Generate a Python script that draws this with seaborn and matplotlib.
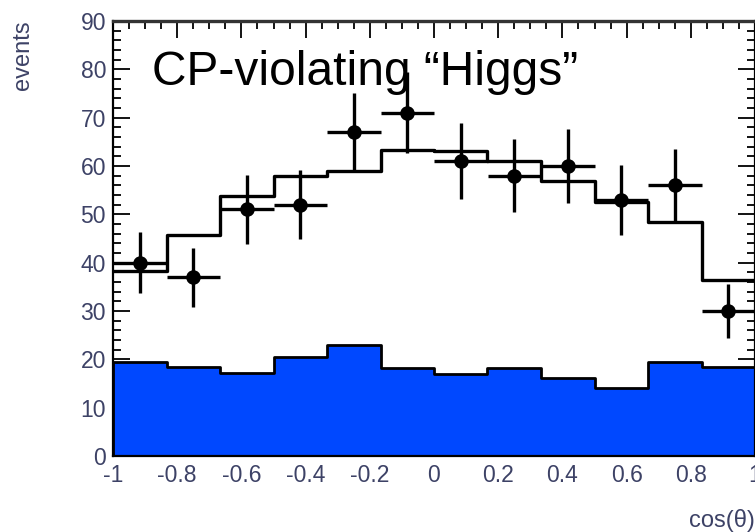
import numpy as np
import pandas as pd
import matplotlib
matplotlib.use("Agg")
import matplotlib.pyplot as plt
from matplotlib.ticker import MultipleLocator, FuncFormatter
import seaborn as sns

# cos(theta) binning: 12 equal bins over [-1, 1]
n_bins = 12
x_range = (-1.0, 1.0)
bin_edges = np.linspace(x_range[0], x_range[1], n_bins + 1)
bin_centers = 0.5 * (bin_edges[:-1] + bin_edges[1:])
half_width = 0.5 * (bin_edges[1] - bin_edges[0])

# Observed events per bin and their statistical uncertainties
data_counts = [40, 37, 51, 52, 67, 71, 61, 58, 60, 53, 56, 30]
data_errors = [6.3, 6.1, 7.1, 7.2, 8.2, 8.4, 7.8, 7.6, 7.7, 7.3, 7.5, 5.5]

# Expected total (signal + background) per bin
total_expected = [38.3, 45.8, 53.7, 57.9, 59.0, 63.3, 63.0, 61.0, 56.8, 52.6, 48.5, 36.5]

# Background component per bin
background = [19.5, 18.4, 17.2, 20.5, 23.0, 18.2, 17.0, 18.2, 16.1, 14.0, 19.5, 18.4]

x_ticks = [-1, -0.8, -0.6, -0.4, -0.2, 0, 0.2, 0.4, 0.6, 0.8, 1]
y_ticks = [0, 10, 20, 30, 40, 50, 60, 70, 80, 90]

hist_df = pd.DataFrame({
    "cos": bin_centers,
    "total": total_expected,
    "bkg": background,
    "data": data_counts,
    "err": data_errors,
})

sns.set_theme(style="ticks")
plt.rcParams["font.family"] = ["Liberation Sans", "DejaVu Sans"]
plt.rcParams["axes.unicode_minus"] = False

W, H = 755, 532
fig = plt.figure(figsize=(W / 100, H / 100), dpi=100)
ax = fig.add_axes([113 / W, 76 / H, 642 / W, 435 / H])

blue = "#0048ff"
label_col = "#3d4266"

# Background: filled step histogram
sns.histplot(data=hist_df, x="cos", weights="bkg", bins=n_bins,
             binrange=x_range, element="step", fill=True, color=blue,
             alpha=1.0, edgecolor="black", linewidth=2.0, ax=ax, zorder=2)

# Expected total: outline step histogram
sns.histplot(data=hist_df, x="cos", weights="total", bins=n_bins,
             binrange=x_range, element="step", fill=False, color="black",
             linewidth=2.4, ax=ax, zorder=3)

# Data points with error bars
ax.errorbar(hist_df["cos"], hist_df["data"], yerr=hist_df["err"],
            xerr=half_width, fmt="none", ecolor="black", elinewidth=2.4,
            capsize=0, zorder=4)
sns.scatterplot(data=hist_df, x="cos", y="data", color="black", s=110,
                edgecolor="black", linewidth=0, ax=ax, zorder=5)

ax.set_xlim(-1, 1)
ax.set_ylim(0, 90)
ax.set_xlabel("")
ax.set_ylabel("")
ax.set_axisbelow(True)

ax.set_xticks(x_ticks)
ax.set_yticks(y_ticks)
ax.xaxis.set_minor_locator(MultipleLocator(0.05))
ax.yaxis.set_minor_locator(MultipleLocator(2))
ax.xaxis.set_major_formatter(FuncFormatter(lambda v, p: f"{v:g}"))
ax.yaxis.set_major_formatter(FuncFormatter(lambda v, p: f"{v:g}"))
ax.tick_params(which="both", direction="in", top=True, right=True,
               color="black", width=1.3)
ax.tick_params(which="major", length=12, labelsize=16.5, labelcolor=label_col,
               pad=5)
ax.tick_params(which="minor", length=6)
ax.tick_params(axis="x", which="major", pad=6)

for sp in ax.spines.values():
    sp.set_linewidth(1.6)
    sp.set_color("black")
    sp.set_zorder(6)
ax.spines["top"].set_linewidth(2.4)
ax.spines["top"].set_color("#333333")

ax.text(-0.878, 76.8, "CP-violating \u201cHiggs\u201d", fontsize=34.5,
        color="black", ha="left", va="baseline", zorder=7)

fig.text(23 / W, 1 - 20 / H, "events", rotation=90, ha="center", va="top",
         fontsize=17, color=label_col)
fig.text(755 / W, 1 - 527 / H, "cos(\u03b8)", ha="right", va="baseline",
         fontsize=17, color=label_col)

fig.savefig("out.png", dpi=100)
